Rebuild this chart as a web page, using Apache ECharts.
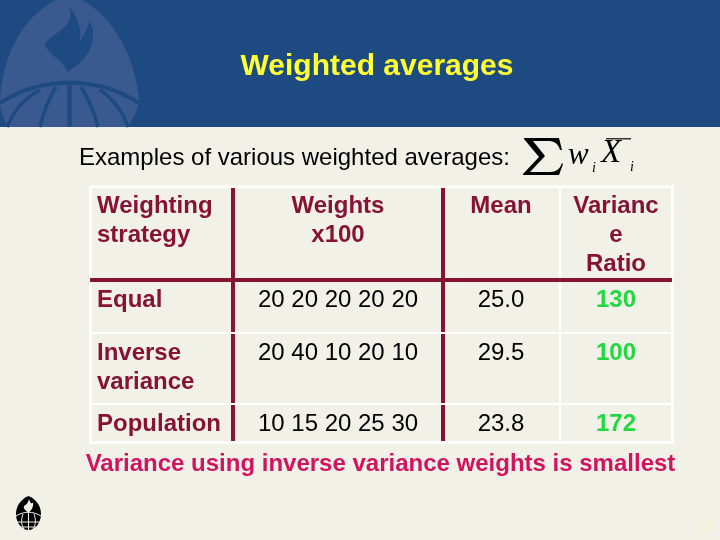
<!DOCTYPE html>
<html><head><meta charset="utf-8">
<style>html,body{margin:0;padding:0;background:#F2F1E8}#c{width:720px;height:540px}</style>
<script src="https://cdn.jsdelivr.net/npm/echarts@6/dist/echarts.min.js"></script>
</head><body><div id="c"></div>
<script>
const titleText = "Weighted averages";
const subtitleText = "Examples of various weighted averages:";
const conclusionText = "Variance using inverse variance weights is smallest";
const pageNumber = "10";
const headerLabels = [["Weighting","strategy"],["Weights","x100"],["Mean"],["Varianc","e","Ratio"]];
const strategies = [["Equal"],["Inverse","variance"],["Population"]];
const weights = ["20 20 20 20 20","20 40 10 20 10","10 15 20 25 30"];
const means = ["25.0","29.5","23.8"];
const varianceRatios = ["130","100","172"];

const FONT = '"Liberation Sans", Arial, sans-serif';
const SERIF = '"Liberation Serif", serif';
const MAROON = '#861236', GREEN = '#22D840', BLUE = '#1E4A82', SHIELD = '#3A5A8F', PAPER = '#F2F1E8';
const els = [];
let pathId = 0;
const rect = (x,y,w,h,fill,z=1)=>els.push({type:'rect',shape:{x,y,width:w,height:h},style:{fill},z,silent:true});
const path = (d,fill,stroke,lw,z=2)=>{
  const name='emblemPath'+(pathId++);
  echarts.graphic.registerShape(name,echarts.graphic.extendPath(d,{}));
  els.push({type:name,style:{fill:fill||'none',stroke:stroke||'none',lineWidth:lw||0},z,silent:true});
};
const text = (t,x,y,o={})=>els.push({type:'text',x,y,z:5,silent:true,style:{text:t,font:`${o.bold?'bold ':''}${o.italic?'italic ':''}${o.size||24}px ${o.family||FONT}`,fill:o.fill||'#000',textAlign:o.align||'left',textVerticalAlign:'middle'}});

// banner + emblem
rect(0,0,720,127,BLUE);
path('M0,100 C2,60 20,18 56,0 L82,0 C115,18 136,60 139,100 C139,108 133,118 128,127 L8,127 C4,120 0,110 0,100 Z',SHIELD);
path('M68,6 C74,16 70,24 57,33 C51,38 43,42 45,46 C50,54 58,58 65,67 L68,72 C78,64 94,56 93,30 L90,21 C87,28 85,34 80,41 C82,26 76,14 68,6 Z',BLUE);
path('M0,103 C42,76 97,76 139,103',null,BLUE,4);
path('M7,127 C14,110 26,97 40,90',null,BLUE,3.5);
path('M40,127 C44,110 49,98 56,87',null,BLUE,3.5);
path('M69.5,83 L69.5,127',null,BLUE,4.5);
path('M98,127 C94,110 88,98 81,87',null,BLUE,3.5);
path('M128,127 C122,110 112,98 100,90',null,BLUE,3.5);
text(titleText,377,67,{bold:true,size:30,fill:'#FFFF33',align:'center'});

// small emblem
path('M28.5,496 C36,499 41,506 41,514 C41,523 35,530 28.5,530 C22,530 16,523 16,514 C16,506 21,499 28.5,496 Z','#000');
path('M29,499 C30,503 32,505 33,502 C34,507 31,511 28,513 C26,510 23,509 24,506 C26,505 28,503 29,499 Z','#F2F1E8');
path('M16,516 C24,511 33,511 41,516 M16,522 L41,522 M20,527 L37,527 M28.5,513 L28.5,530 M23,514 C21,520 21,524 24,529 M34,514 C36,520 36,524 33,529',null,'#F2F1E8',1,3);

// subtitle + formula
text(subtitleText,79,158,{size:24});
path('M524,138 L559,138 L562,150 L560,150 C558,143 554,141 548,141 L533,141 L545,156 L530,172 L550,172 C556,172 560,169 562,163 L563,164 L559,175 L523,175 L523,174 L539,157 L524,139 Z','#000');
text('w',568,156,{size:31,family:SERIF,italic:true});
text('i',592,168,{size:14,family:SERIF,italic:true});
text('X',601,153,{size:33,family:SERIF,italic:true});
rect(606,138,25,1.5,'#333');
text('i',630,167,{size:14,family:SERIF,italic:true});

// table frame
rect(89,185.5,585,2.5,'#fff',2);
rect(89,441,585,3,'#fff',2);
rect(89,185.5,3,258.5,'#fff',2);
rect(671,185.5,2.5,258.5,'#fff',2);
rect(559,187,2,255,'#fff',2);
rect(90,332,582,2,'#fff',2);
rect(90,403,582,2,'#fff',2);
rect(231,188,4,144,MAROON,3);
rect(231,334,4,69,MAROON,3);
rect(231,405,4,36,MAROON,3);
rect(441,188,4,144,MAROON,3);
rect(441,334,4,69,MAROON,3);
rect(441,405,4,36,MAROON,3);
rect(90,278,582,4,MAROON,3);

// table header
const lh=29, headerY=206;
const headerCx=[97,338,501,616];
headerLabels.forEach((lines,c)=>lines.forEach((l,i)=>
  text(l,headerCx[c],headerY+i*lh,{bold:true,fill:MAROON,align:c===0?'left':'center'})));

// table rows
const rowTextY=[300,353,424];
strategies.forEach((lines,r)=>{
  lines.forEach((l,i)=>text(l,97,rowTextY[r]+i*lh,{bold:true,fill:MAROON}));
  text(weights[r],338,rowTextY[r],{align:'center'});
  text(means[r],501,rowTextY[r],{align:'center'});
  text(varianceRatios[r],616,rowTextY[r],{bold:true,fill:GREEN,align:'center'});
});

text(conclusionText,380.5,464,{bold:true,size:24,fill:'#D0145F',align:'center'});
text(pageNumber,705,528,{size:14,fill:'#F6F4C2',align:'center'});

const chart=echarts.init(document.getElementById('c'),null,{renderer:'canvas'});
chart.setOption({animation:false,backgroundColor:PAPER,graphic:{elements:els}});
</script></body></html>
